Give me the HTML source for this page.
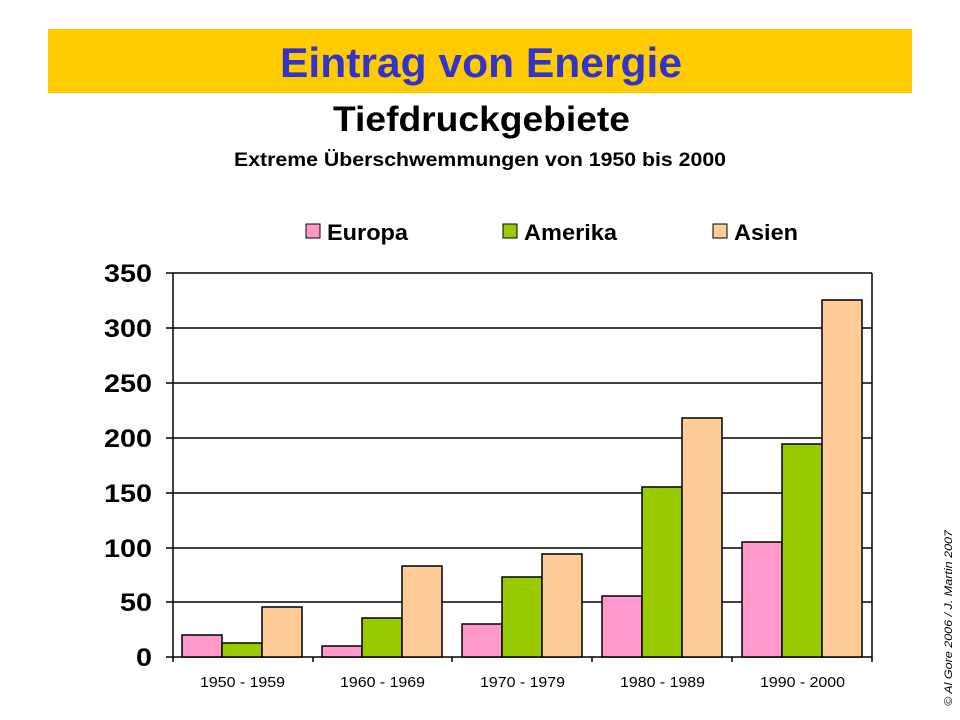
<!DOCTYPE html>
<html><head><meta charset="utf-8"><style>
body{margin:0;background:#fff;width:960px;height:720px;overflow:hidden}
svg{display:block;font-family:"Liberation Sans",Arial,sans-serif}
</style></head><body>
<svg width="960" height="720" viewBox="0 0 960 720">
<rect x="48" y="29" width="864" height="64" fill="#ffcc00"/>
<text x="280" y="77" textLength="402" lengthAdjust="spacingAndGlyphs" font-size="42" font-weight="bold" fill="#3333cc">Eintrag von Energie</text>
<text x="333" y="131" textLength="297" lengthAdjust="spacingAndGlyphs" font-size="35" font-weight="bold" fill="#000">Tiefdruckgebiete</text>
<text x="234" y="166" textLength="492" lengthAdjust="spacingAndGlyphs" font-size="19" font-weight="bold" fill="#000">Extreme Überschwemmungen von 1950 bis 2000</text>
<g font-size="22" font-weight="bold">
<rect x="306" y="224" width="14" height="14" fill="#ff99cc" stroke="#000"/><text x="327" y="240" textLength="81" lengthAdjust="spacingAndGlyphs">Europa</text>
<rect x="503" y="224" width="14" height="14" fill="#99cc00" stroke="#000"/><text x="524" y="240" textLength="93" lengthAdjust="spacingAndGlyphs">Amerika</text>
<rect x="713" y="224" width="14" height="14" fill="#ffcc99" stroke="#000"/><text x="734" y="240" textLength="64" lengthAdjust="spacingAndGlyphs">Asien</text>
</g>
<g stroke="#000" stroke-width="1.5">
<line x1="173" y1="273" x2="872" y2="273"/>
<line x1="173" y1="328" x2="872" y2="328"/>
<line x1="173" y1="383" x2="872" y2="383"/>
<line x1="173" y1="438" x2="872" y2="438"/>
<line x1="173" y1="493" x2="872" y2="493"/>
<line x1="173" y1="548" x2="872" y2="548"/>
<line x1="173" y1="602" x2="872" y2="602"/>
<line x1="872" y1="273" x2="872" y2="657"/>
<line x1="173" y1="273" x2="173" y2="662"/>
<line x1="166" y1="657" x2="872" y2="657"/>
<line x1="166" y1="273" x2="173" y2="273"/><line x1="166" y1="328" x2="173" y2="328"/><line x1="166" y1="383" x2="173" y2="383"/><line x1="166" y1="438" x2="173" y2="438"/><line x1="166" y1="493" x2="173" y2="493"/><line x1="166" y1="548" x2="173" y2="548"/><line x1="166" y1="602" x2="173" y2="602"/>
<line x1="313" y1="657" x2="313" y2="662"/><line x1="452" y1="657" x2="452" y2="662"/><line x1="592" y1="657" x2="592" y2="662"/><line x1="732" y1="657" x2="732" y2="662"/><line x1="872" y1="657" x2="872" y2="662"/>
</g>
<g font-size="25" font-weight="bold">
<text x="104" y="282" textLength="48" lengthAdjust="spacingAndGlyphs">350</text>
<text x="104" y="337" textLength="48" lengthAdjust="spacingAndGlyphs">300</text>
<text x="104" y="392" textLength="48" lengthAdjust="spacingAndGlyphs">250</text>
<text x="104" y="447" textLength="48" lengthAdjust="spacingAndGlyphs">200</text>
<text x="104" y="502" textLength="48" lengthAdjust="spacingAndGlyphs">150</text>
<text x="104" y="557" textLength="48" lengthAdjust="spacingAndGlyphs">100</text>
<text x="120" y="611" textLength="32" lengthAdjust="spacingAndGlyphs">50</text>
<text x="136" y="666" textLength="16" lengthAdjust="spacingAndGlyphs">0</text>
</g>
<g stroke="#000" stroke-width="1.5">
<rect x="182" y="635" width="40" height="22" fill="#ff99cc"/><rect x="222" y="643" width="40" height="14" fill="#99cc00"/><rect x="262" y="607" width="40" height="50" fill="#ffcc99"/>
<rect x="322" y="646" width="40" height="11" fill="#ff99cc"/><rect x="362" y="618" width="40" height="39" fill="#99cc00"/><rect x="402" y="566" width="40" height="91" fill="#ffcc99"/>
<rect x="462" y="624" width="40" height="33" fill="#ff99cc"/><rect x="502" y="577" width="40" height="80" fill="#99cc00"/><rect x="542" y="554" width="40" height="103" fill="#ffcc99"/>
<rect x="602" y="596" width="40" height="61" fill="#ff99cc"/><rect x="642" y="487" width="40" height="170" fill="#99cc00"/><rect x="682" y="418" width="40" height="239" fill="#ffcc99"/>
<rect x="742" y="542" width="40" height="115" fill="#ff99cc"/><rect x="782" y="444" width="40" height="213" fill="#99cc00"/><rect x="822" y="300" width="40" height="357" fill="#ffcc99"/>
</g>
<g font-size="15">
<text x="200" y="687" textLength="85" lengthAdjust="spacingAndGlyphs">1950 - 1959</text>
<text x="340" y="687" textLength="85" lengthAdjust="spacingAndGlyphs">1960 - 1969</text>
<text x="480" y="687" textLength="85" lengthAdjust="spacingAndGlyphs">1970 - 1979</text>
<text x="620" y="687" textLength="85" lengthAdjust="spacingAndGlyphs">1980 - 1989</text>
<text x="760" y="687" textLength="85" lengthAdjust="spacingAndGlyphs">1990 - 2000</text>
</g>
<text transform="translate(952,706) rotate(-90)" font-size="11" font-style="italic" textLength="176" lengthAdjust="spacingAndGlyphs">© Al Gore 2006 / J. Martin 2007</text>
</svg>
</body></html>
